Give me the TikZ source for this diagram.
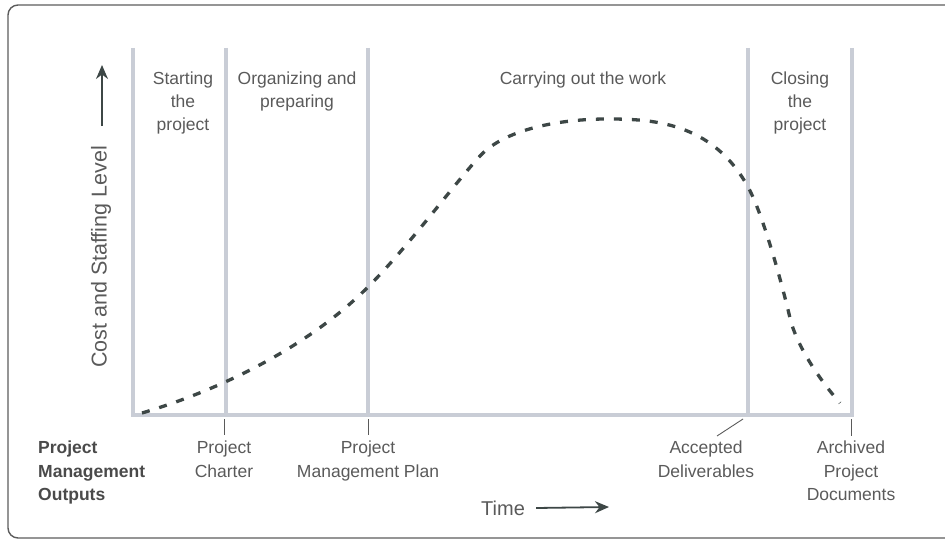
\documentclass[tikz,border=0pt]{standalone}
\usepackage{fontspec}
\setmainfont{Liberation Sans}
\usetikzlibrary{arrows.meta}
\definecolor{bargray}{HTML}{C9CDD6}
\definecolor{curvegray}{HTML}{3D4746}
\definecolor{txtgray}{HTML}{5A5A5A}
\definecolor{boldgray}{HTML}{4A4A4A}
\definecolor{framegray}{HTML}{5C5C5C}
\tikzset{
  lbl/.style={font=\fontsize{17.5}{23}\selectfont, text=txtgray, align=center, inner sep=0pt, anchor=north},
  outlbl/.style={font=\fontsize{17.5}{23.5}\selectfont, text=txtgray, align=center, inner sep=0pt, anchor=north},
  boldlbl/.style={font=\bfseries\fontsize{17.5}{23.5}\selectfont, text=boldgray, align=left, inner sep=0pt, anchor=north west},
  phasebar/.style={draw=bargray, line width=4pt},
  tickline/.style={draw=txtgray, line width=0.9pt},
  costcurve/.style={draw=curvegray, line width=3.3pt, dash pattern=on 8pt off 10pt},
  axisarrow/.style={draw=curvegray, line width=1.8pt, -{Stealth[length=14pt,width=12pt]}},
}
\begin{document}
\begin{tikzpicture}[x=1pt,y=-1pt]
\useasboundingbox (0,0) rectangle (945,543);
% frame
\draw[framegray, line width=1.4pt, rounded corners=10pt] (8,5) rectangle (960,538);
% bar coordinates
\coordinate (b0t) at (133,48); \coordinate (b0b) at (133,415);
\coordinate (b1t) at (226,48); \coordinate (b1b) at (226,415);
\coordinate (b2t) at (368,48); \coordinate (b2b) at (368,415);
\coordinate (b3t) at (748,48); \coordinate (b3b) at (748,415);
\coordinate (b4t) at (852,48); \coordinate (b4b) at (852,415);
\draw[phasebar] (b0t) -- (b0b);
\draw[phasebar] (b1t) -- (b1b);
\draw[phasebar] (b2t) -- (b2b);
\draw[phasebar] (b3t) -- (b3b);
\draw[phasebar] (b4t) -- (b4b);
\draw[phasebar] ([xshift=-2pt]b0b) -- ([xshift=2pt]b4b);
% phase labels
\node[lbl] (start) at (183,72) {Starting\\the\\project};
\node[lbl] (organ) at (297,72) {Organizing and\\preparing};
\node[lbl] (carry) at (583,72) {Carrying out the work};
\node[lbl] (close) at (800,72) {Closing\\the\\project};
% curve
\draw[costcurve] (142,413) .. controls (220,390) and (308,347) .. (368,287)
  .. controls (408,247) and (455,183) .. (480,156)
  .. controls (505,129) and (560,119) .. (607,119)
  .. controls (650,119) and (712,121) .. (748,187)
  .. controls (763,214) and (782,284) .. (790,318)
  .. controls (796,344) and (818,378) .. (840,403);
% y axis label and arrow
\node[font=\fontsize{21.5}{26}\selectfont, text=txtgray, rotate=90, inner sep=0pt] (ylab) at (101,257) {Cost and Staffing Level};
\coordinate (yarrs) at (102,126);
\coordinate (yarre) at (102,65);
\draw[axisarrow] (yarrs) -- (yarre);
% outputs
\node[boldlbl] (pmo) at (38,441) {Project\\Management\\Outputs};
\coordinate (t1a) at (224,419); \coordinate (t1b) at (224,435);
\coordinate (t2a) at (368,419); \coordinate (t2b) at (368,435);
\coordinate (t3a) at (743,419); \coordinate (t3b) at (717,436);
\coordinate (t4a) at (851,419); \coordinate (t4b) at (851,436);
\draw[tickline] (t1a) -- (t1b);
\draw[tickline] (t2a) -- (t2b);
\draw[tickline] (t3a) -- (t3b);
\draw[tickline] (t4a) -- (t4b);
\node[outlbl] (charter) at (224,441) {Project\\Charter};
\node[outlbl] (plan) at (368,441) {Project\\Management Plan};
\node[outlbl] (accepted) at (706,441) {Accepted\\Deliverables};
\node[outlbl] (archived) at (851,441) {Archived\\Project\\Documents};
% time
\node[font=\fontsize{20}{24}\selectfont, text=txtgray, inner sep=0pt, anchor=west] (time) at (481,508) {Time};
\coordinate (xarre) at (609,507);
\draw[axisarrow] ([xshift=11pt]time.east) -- (xarre);
\end{tikzpicture}
\end{document}
